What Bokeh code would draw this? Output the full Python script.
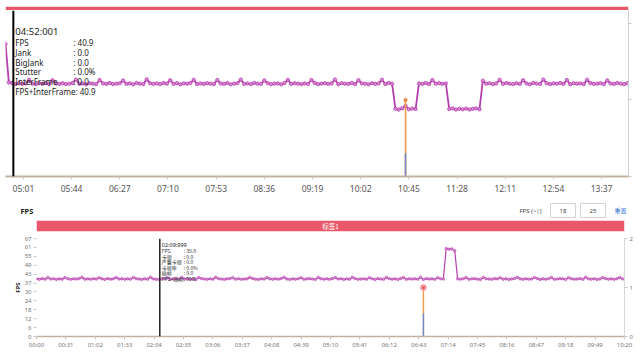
import math
from bokeh.plotting import figure
from bokeh.models import Range1d, LinearAxis, FixedTicker, Span, CustomJSTickFormatter
from bokeh.layouts import column
from bokeh.embed import file_html
from bokeh.resources import INLINE
from bokeh.core.properties import value

# ---------------- data: upper (zoomed) chart ----------------
TOP_T0 = 285          # first sample, seconds (04:45)
TOP_STEP = 3          # sampling interval, seconds
TOP_X_END = 841       # right end of the visible window (14:01)
TOP_FPS = [
    58.0, 41.1, 40.9, 40.4, 40.8, 40.5, 40.7, 42.3, 40.6, 40.4,
    40.8, 40.5, 40.9, 40.3, 42.1, 40.7, 40.5, 40.8, 40.4, 40.6,
    40.9, 42.4, 40.5, 40.7, 40.3, 40.8, 40.6, 40.4, 42.2, 40.7,
    40.5, 40.9, 40.4, 40.6, 40.8, 42.0, 40.5, 40.7, 40.3, 40.9,
    40.6, 40.4, 42.5, 40.8, 40.5, 40.7, 40.4, 40.9, 40.6, 42.1,
    40.5, 40.8, 40.3, 40.7, 40.6, 40.9, 42.3, 40.4, 40.7, 40.5,
    40.8, 40.6, 40.4, 42.2, 40.7, 40.5, 40.9, 40.3, 40.6, 40.8,
    42.4, 40.5, 40.7, 40.4, 40.9, 40.6, 40.5, 42.0, 40.8, 40.4,
    40.6, 40.7, 40.3, 40.9, 42.3, 40.5, 40.8, 40.6, 40.4, 40.7,
    40.5, 42.2, 40.9, 40.4, 40.6, 40.8, 40.5, 40.7, 42.4, 40.3,
    40.8, 40.6, 40.5, 40.9, 40.4, 42.1, 40.7, 40.6, 40.3, 40.8,
    40.5, 40.7, 42.3, 40.4, 40.9, 40.6,
    29.6, 29.3, 29.8, 30.9, 29.4, 29.7, 29.5,
    40.7, 40.5, 40.9, 40.4, 42.2, 40.6, 40.8, 40.5, 40.7,
    29.5, 29.8, 29.3, 29.6, 29.4, 29.7, 29.3, 29.6, 29.8, 29.4,
    41.9, 40.6, 40.8, 40.4, 40.7, 42.3, 40.5, 40.9,
    40.6, 40.4, 40.8, 40.5, 42.1, 40.7, 40.3, 40.9, 40.6, 40.5,
    42.4, 40.8, 40.4, 40.7, 40.6, 40.9, 40.5, 42.2, 40.3, 40.8,
    40.6, 40.7, 40.4, 42.3, 40.9, 40.5, 40.6, 40.8, 40.4, 42.0,
    40.7, 40.5, 40.9, 40.6, 40.4, 40.8,
]
TOP_JANK_T = [642]
TOP_JANK_V = [1.0]
TOP_BIGJANK_T = [642]
TOP_BIGJANK_V = [0.3]
TOP_TICK_LABELS = ["05:01", "05:44", "06:27", "07:10", "07:53", "08:36", "09:19",
                   "10:02", "10:45", "11:28", "12:11", "12:54", "13:37"]
TOP_CURSOR = 292.001
TOP_KEYS = ["FPS", "Jank", "BigJank", "Stutter", "InterFrame", "FPS+InterFrame"]
TOP_Y_END = 72.6      # FPS axis top (67 sits a little below the frame top)
TOP_J_END = 2.167     # jank axis top

# ---------------- data: lower (full) chart ----------------
BOT_T0 = 0
BOT_STEP = 3
BOT_X_END = 620
BOT_FPS = [
    39.4, 39.1, 39.6, 39.2, 40.4, 39.3, 39.5, 39.0, 39.4, 39.2,
    40.3, 39.5, 39.1, 39.4, 39.3, 39.6, 40.5, 39.2, 39.4, 39.1,
    39.5, 39.3, 40.2, 39.4, 39.0, 39.6, 39.2, 39.4, 40.4, 39.3,
    39.5, 39.1, 39.4, 39.2, 40.3, 39.6, 39.3, 39.0, 39.5, 39.2,
    40.5, 39.4, 39.1, 39.0, 39.3, 39.5, 40.2, 39.2, 39.4, 39.6,
    39.1, 40.4, 39.3, 39.5, 39.2, 39.4, 39.0, 40.3, 39.6, 39.3,
    39.1, 39.4, 39.2, 40.5, 39.5, 39.3, 39.0, 39.4, 39.6, 40.2,
    39.2, 39.5, 39.1, 39.3, 39.4, 40.4, 39.6, 39.2, 39.0, 39.5,
    39.3, 40.3, 39.4, 39.1, 39.5, 39.2, 39.6, 40.5, 39.3, 39.0,
    39.4, 39.2, 39.5, 40.2, 39.1, 39.4, 39.6, 39.3, 39.0, 40.4,
    39.5, 39.2, 39.4, 39.1, 39.6, 40.3, 39.3, 39.5, 39.0, 39.4,
    39.2, 40.5, 39.6, 39.1, 39.3, 39.5, 39.2, 40.2, 39.4, 39.0,
    39.6, 39.3, 39.1, 40.4, 39.5, 39.2, 39.4, 39.0, 39.6, 40.3,
    39.1, 39.5, 39.3, 39.4, 39.2, 40.5, 39.0, 39.6, 39.3, 39.4,
    39.1, 40.2, 39.5, 39.3,
    60.1, 59.7, 59.9, 58.6,
    39.4, 39.2,
    39.5, 40.3, 39.1, 39.4, 39.6, 39.2, 39.0, 40.4, 39.5, 39.3,
    39.1, 39.6, 39.4, 40.2, 39.2, 39.5, 39.0, 39.3, 39.6, 40.5,
    39.4, 39.1, 39.5, 39.2, 39.3, 40.3, 39.6, 39.0, 39.4, 39.2,
    39.5, 40.4, 39.1, 39.3, 39.6, 39.4, 39.0, 40.2, 39.5, 39.2,
    39.3, 39.6, 39.1, 40.5, 39.4, 39.2, 39.5, 39.0, 39.3, 40.3,
    39.6, 39.2, 39.4, 39.1, 39.5, 40.4, 39.3,
]
BOT_JANK_T = [408]
BOT_JANK_V = [1.0]
BOT_BIGJANK_T = [408]
BOT_BIGJANK_V = [0.47]
BOT_TICK_LABELS = ["00:00", "00:31", "01:02", "01:33", "02:04", "02:35", "03:06",
                   "03:37", "04:08", "04:39", "05:10", "05:41", "06:12", "06:43",
                   "07:14", "07:45", "08:16", "08:47", "09:18", "09:49", "10:20"]
BOT_Y_MAX = 67
BOT_Y_DIVS = 11
BOT_J_TICKS = [0, 1, 2]
BOT_CURSOR = 129.999
BOT_KEYS = ["FPS", "卡顿", "严重卡顿", "卡顿率", "插帧", "FPS+插帧"]
PANEL_TITLE = "FPS"
MARK_NAME = "标签1"
MARK_START = 0
MARK_END = 620
THRESH_LABEL = "FPS (>|)"
THRESHOLDS = [18, 25]
RESET_LABEL = "重置"

# ---------------- styles ----------------
RED = "#e8586a"
MAG = "#b63fae"
MAG_FILL = "#d98ad2"
ORANGE = "#f39a4f"
BLUE = "#7088cc"
TAN = "#c3b19e"
FONT_NAME = "Noto Sans"
FONT = value(FONT_NAME)
CJK = value("Noto Sans CJK SC")


def mmss(label):
    m, s = label.split(":")
    return int(m) * 60 + int(s)


def stamp(t):
    m = int(t // 60)
    s = int(t % 60)
    ms = int(round((t - math.floor(t)) * 1000))
    return f"{m:02d}:{s:02d}:{ms:03d}"


def times(t0, step, vals):
    return [t0 + step * i for i in range(len(vals))]


def at(t0, step, vals, t):
    return vals[int(round((t - t0) / step))]


def event_at(ts, vs, t, step):
    return sum(v for tt, v in zip(ts, vs) if abs(tt - t) < step / 2)


def base_fig(w, h, xr, yr, l, r, t, b):
    p = figure(width=w, height=h, x_range=xr, y_range=yr, output_backend="svg",
               toolbar_location=None, tools="", x_axis_location=None,
               y_axis_location=None, min_border_left=l, min_border_right=r,
               min_border_top=t, min_border_bottom=b, frame_align=False)
    p.outline_line_color = None
    p.grid.visible = False
    p.background_fill_color = "white"
    p.border_fill_color = "white"
    return p


def style_axis(ax, size, color):
    ax.major_label_text_font = FONT_NAME
    ax.major_label_text_font_size = size
    ax.major_label_text_color = color
    ax.major_tick_in = 0
    ax.major_tick_out = 3
    ax.major_tick_line_color = "#c8c8c8"
    ax.minor_tick_line_color = None


mmss_fmt = CustomJSTickFormatter(code="""
const m = Math.floor(tick / 60), s = Math.round(tick % 60);
return String(m).padStart(2, '0') + ':' + String(s).padStart(2, '0');
""")

# ================= upper chart =================
top_x = Range1d(TOP_T0, TOP_X_END)

band1 = base_fig(640, 10, top_x, Range1d(-0.5, 0.5), 5, 12, 4, 2)
band1.hbar(y=[0], left=[TOP_T0], right=[TOP_X_END], height=1,
           fill_color=RED, line_color=None)

p1 = base_fig(640, 186, top_x, Range1d(0, TOP_Y_END), 5, 12, 0, 18)
p1.extra_y_ranges = {"jank": Range1d(0, TOP_J_END)}
xa1 = LinearAxis(ticker=FixedTicker(ticks=[mmss(l) for l in TOP_TICK_LABELS]),
                 formatter=mmss_fmt)
style_axis(xa1, "8.5px", "#555555")
xa1.axis_line_color = TAN
xa1.axis_line_width = 2
xa1.major_label_standoff = 3
p1.add_layout(xa1, "below")
# right (jank) axis: its labels fall outside the window, so only ticks are shown
ra1 = LinearAxis(y_range_name="jank", ticker=FixedTicker(ticks=[], minor_ticks=BOT_J_TICKS))
ra1.minor_tick_in = 0
ra1.minor_tick_out = 3
ra1.minor_tick_line_color = "#c8c8c8"
ra1.major_tick_line_color = None
ra1.axis_line_color = "#d0d0d0"
p1.add_layout(ra1, "right")

t_top = times(TOP_T0, TOP_STEP, TOP_FPS)
p1.line(t_top, TOP_FPS, line_color=MAG, line_width=1.8)
p1.scatter(t_top, TOP_FPS, size=3.3, marker="circle", fill_color=MAG_FILL,
           line_color=MAG, line_width=0.8)
p1.segment(x0=TOP_JANK_T, y0=[0] * len(TOP_JANK_T), x1=TOP_JANK_T, y1=TOP_JANK_V,
           y_range_name="jank", line_color=ORANGE, line_width=1.6)
p1.scatter(TOP_JANK_T, TOP_JANK_V, y_range_name="jank", size=3, marker="circle",
           fill_color=ORANGE, line_color="#e8743a")
p1.segment(x0=TOP_BIGJANK_T, y0=[0] * len(TOP_BIGJANK_T), x1=TOP_BIGJANK_T,
           y1=TOP_BIGJANK_V, y_range_name="jank", line_color=BLUE, line_width=1.6)
p1.add_layout(Span(location=TOP_CURSOR, dimension="height", line_color="black",
                   line_width=2))

fps_c = at(TOP_T0, TOP_STEP, TOP_FPS, TOP_CURSOR)
jank_c = event_at(TOP_JANK_T, TOP_JANK_V, TOP_CURSOR, TOP_STEP)
big_c = event_at(TOP_BIGJANK_T, TOP_BIGJANK_V, TOP_CURSOR, TOP_STEP)
stutter_c = 0.0
inter_c = 0.0
vals_top = [f": {fps_c:.1f}", f": {jank_c:.1f}", f": {big_c:.1f}",
            f": {stutter_c:.1f}%", f": {inter_c:.1f}"]
rows_top = TOP_KEYS[:5]
last_top = f"{TOP_KEYS[5]}: {fps_c + inter_c:.1f}"
row_off = [32, 41.8, 51.6, 61.4, 71.2, 81]
p1.text(x=[TOP_CURSOR], y=[TOP_Y_END], text=[stamp(TOP_CURSOR)], x_offset=2, y_offset=21,
        text_font=FONT, text_font_size="9.5px", text_color="#1e1e1e",
        text_baseline="middle")
p1.text(x=[TOP_CURSOR] * 6, y=[TOP_Y_END] * 6, text=rows_top + [last_top],
        x_offset=[2] * 6, y_offset=row_off,
        text_font=FONT, text_font_size="8px", text_color="#222222",
        text_baseline="middle")
p1.text(x=[TOP_CURSOR] * 5, y=[TOP_Y_END] * 5, text=vals_top,
        x_offset=[60] * 5, y_offset=row_off[:5],
        text_font=FONT, text_font_size="8px", text_color="#222222",
        text_baseline="middle")

sep = base_fig(640, 4, top_x, Range1d(-0.5, 0.5), 5, 12, 1, 1)
sep.hbar(y=[0], left=[TOP_T0], right=[TOP_X_END], height=1,
         fill_color="#e1e7ee", line_color=None)

# ================= lower chart =================
hdr = base_fig(640, 20, Range1d(0, 640), Range1d(20, 0), 0, 0, 0, 0)
hdr.text(x=[20], y=[10], text=[PANEL_TITLE], text_font=FONT, text_font_style="bold",
         text_font_size="7.5px", text_color="#222222", text_baseline="middle")
hdr.text(x=[519], y=[10], text=[THRESH_LABEL], text_font=FONT, text_font_size="6px",
         text_color="#444444", text_baseline="middle")
hdr.quad(left=[550, 580], right=[575, 605], top=[3, 3], bottom=[17, 17],
         fill_color="white", line_color="#d4d4d4")
hdr.text(x=[562.5, 592.5], y=[10, 10], text=[str(v) for v in THRESHOLDS],
         text_font=FONT, text_font_size="6px", text_color="#444444",
         text_align="center", text_baseline="middle")
hdr.text(x=[614], y=[10], text=[RESET_LABEL], text_font=CJK, text_font_size="6px",
         text_color="#2d6fd6", text_baseline="middle")

bot_x = Range1d(BOT_T0, BOT_X_END)
band2 = base_fig(640, 14, bot_x, Range1d(-0.5, 0.5), 36, 16, 0, 3)
band2.hbar(y=[0], left=[MARK_START], right=[MARK_END], height=1,
           fill_color=RED, line_color=None)
band2.text(x=[(MARK_START + MARK_END) / 2], y=[0], text=[MARK_NAME], text_font=CJK,
           text_font_size="6.5px", text_color="white", text_align="center",
           text_baseline="middle")

p2 = base_fig(640, 118, bot_x, Range1d(0, BOT_Y_MAX), 36, 16, 4, 16)
p2.extra_y_ranges = {"jank": Range1d(0, BOT_J_TICKS[-1])}
xa2 = LinearAxis(ticker=FixedTicker(ticks=[mmss(l) for l in BOT_TICK_LABELS]),
                 formatter=mmss_fmt)
style_axis(xa2, "6px", "#777777")
xa2.axis_line_color = TAN
xa2.axis_line_width = 1.5
xa2.major_label_standoff = 1
p2.add_layout(xa2, "below")
ya2 = LinearAxis(ticker=FixedTicker(ticks=[BOT_Y_MAX * k / BOT_Y_DIVS for k in range(BOT_Y_DIVS + 1)]),
                 formatter=CustomJSTickFormatter(code="return String(Math.round(tick));"),
                 axis_label=PANEL_TITLE)
style_axis(ya2, "6px", "#777777")
ya2.axis_line_color = None
ya2.major_label_standoff = 2
ya2.axis_label_text_font = FONT_NAME
ya2.axis_label_text_font_size = "6px"
ya2.axis_label_text_font_style = "bold"
ya2.axis_label_text_color = "#333333"
ya2.axis_label_standoff = 0
p2.add_layout(ya2, "left")
ra2 = LinearAxis(y_range_name="jank", ticker=FixedTicker(ticks=BOT_J_TICKS))
style_axis(ra2, "6px", "#777777")
ra2.axis_line_color = "#d8d8d8"
ra2.major_label_standoff = 2
p2.add_layout(ra2, "right")

t_bot = times(BOT_T0, BOT_STEP, BOT_FPS)
p2.line(t_bot, BOT_FPS, line_color=MAG, line_width=1.2)
p2.scatter(t_bot, BOT_FPS, size=2.5, marker="circle", fill_color=MAG_FILL,
           line_color=MAG, line_width=0.6)
p2.segment(x0=BOT_JANK_T, y0=[0] * len(BOT_JANK_T), x1=BOT_JANK_T, y1=BOT_JANK_V,
           y_range_name="jank", line_color=ORANGE, line_width=1.4)
p2.segment(x0=BOT_BIGJANK_T, y0=[0] * len(BOT_BIGJANK_T), x1=BOT_BIGJANK_T,
           y1=BOT_BIGJANK_V, y_range_name="jank", line_color=BLUE, line_width=1.4)
p2.scatter(BOT_JANK_T, BOT_JANK_V, y_range_name="jank", size=5, marker="circle",
           fill_color="#e8464a", fill_alpha=0.8, line_color="#f4a0a8", line_width=1.5)
p2.add_layout(Span(location=BOT_CURSOR, dimension="height", line_color="#222222",
                   line_width=1.5))

fps_b = at(BOT_T0, BOT_STEP, BOT_FPS, BOT_CURSOR)
jank_b = event_at(BOT_JANK_T, BOT_JANK_V, BOT_CURSOR, BOT_STEP)
big_b = event_at(BOT_BIGJANK_T, BOT_BIGJANK_V, BOT_CURSOR, BOT_STEP)
vals_bot = [f": {fps_b:.1f}", f": {jank_b:.1f}", f": {big_b:.1f}",
            f": {0.0:.1f}%", f": {0.0:.1f}"]
last_bot = f"{BOT_KEYS[5]}: {fps_b:.1f}"
boff = [12, 17.6, 23.2, 28.8, 34.4, 40]
p2.text(x=[BOT_CURSOR], y=[BOT_Y_MAX], text=[stamp(BOT_CURSOR)], x_offset=2, y_offset=6,
        text_font=FONT, text_font_size="5.5px", text_color="#222222",
        text_baseline="middle")
p2.text(x=[BOT_CURSOR] * 6, y=[BOT_Y_MAX] * 6, text=BOT_KEYS[:5] + [last_bot],
        x_offset=[2] * 6, y_offset=boff, text_font=CJK, text_font_size="5px",
        text_color="#333333", text_baseline="middle")
p2.text(x=[BOT_CURSOR] * 5, y=[BOT_Y_MAX] * 5, text=vals_bot,
        x_offset=[24] * 5, y_offset=boff[:5], text_font=CJK, text_font_size="5px",
        text_color="#333333", text_baseline="middle")

layout = column(band1, p1, sep, hdr, band2, p2, spacing=0)
open("out.html", "w").write(file_html(layout, INLINE))
